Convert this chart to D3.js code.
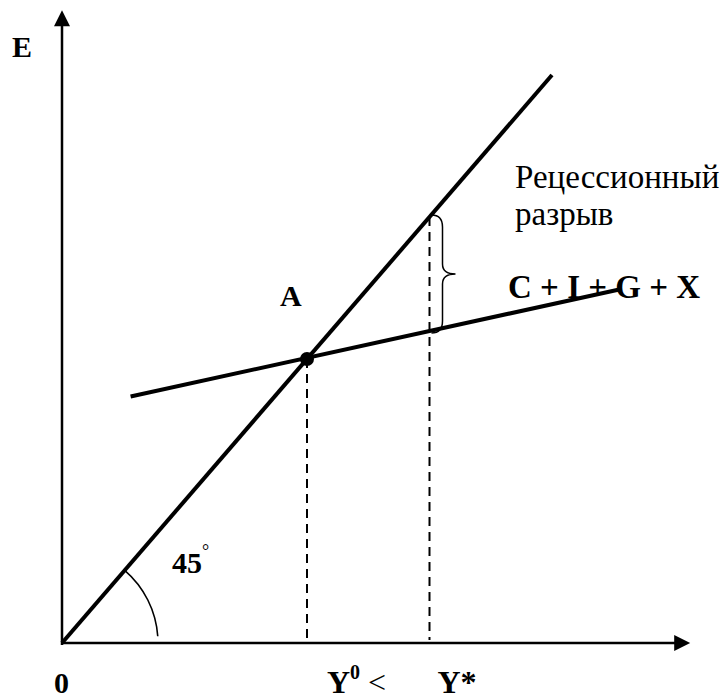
<!DOCTYPE html>
<html>
<head>
<meta charset="utf-8">
<script src="https://cdn.jsdelivr.net/npm/d3@7"></script>
<style>
  body { margin: 0; background: #fff; }
  svg text { font-family: "Liberation Serif", "Times New Roman", serif; fill: #000; }
  .bold { font-weight: bold; }
</style>
</head>
<body>
<div id="chart"></div>
<script>
// values in "model" units: Y on the x axis, E on the y axis
const diagonal = [[0, 0], [100, 100]];            // 45-degree line E = Y
const aggregate = [[14, 43.4], [113.5, 62.2]];   // C + I + G + X
const pointA = [50, 50];                           // equilibrium Y0
const yStar = 75;                                  // potential output Y*
const axisMax = { x: 128.2, y: 111.4 };
const gapLabel = ["Рецессионный", "разрыв"];
const lineLabel = "C + I + G + X";

const width = 724, height = 700;

const svg = d3.select("#chart").append("svg")
    .attr("width", width)
    .attr("height", height);

const x = d3.scaleLinear().domain([0, 100]).range([62, 552]);
const y = d3.scaleLinear().domain([0, 100]).range([643, 75]);

const aggAt = v => {
    const [p0, p1] = aggregate;
    return p0[1] + (p1[1] - p0[1]) * (v - p0[0]) / (p1[0] - p0[0]);
};

// axes with arrow heads
svg.append("line")
    .attr("x1", x(0)).attr("y1", y(0) + 2)
    .attr("x2", x(0)).attr("y2", y(axisMax.y) + 12)
    .attr("stroke", "#000").attr("stroke-width", 2.5);
svg.append("path")
    .attr("d", `M${x(0)},${y(axisMax.y)} L${x(0) - 8},${y(axisMax.y) + 16} L${x(0) + 8},${y(axisMax.y) + 16}Z`)
    .attr("fill", "#000");

svg.append("line")
    .attr("x1", x(0) - 1).attr("y1", y(0))
    .attr("x2", x(axisMax.x) - 12).attr("y2", y(0))
    .attr("stroke", "#000").attr("stroke-width", 2.5);
svg.append("path")
    .attr("d", `M${x(axisMax.x)},${y(0)} L${x(axisMax.x) - 16},${y(0) - 8} L${x(axisMax.x) - 16},${y(0) + 8}Z`)
    .attr("fill", "#000");

// dashed verticals
[pointA[0], yStar].forEach(v => {
    const top = v === yStar ? y(v) : y(pointA[1]);
    svg.append("line")
        .attr("x1", x(v)).attr("y1", top)
        .attr("x2", x(v)).attr("y2", y(0) - 3)
        .attr("stroke", "#000").attr("stroke-width", 2)
        .attr("stroke-dasharray", "9,6");
});

const line = d3.line().x(d => x(d[0])).y(d => y(d[1]));

svg.append("path").datum(diagonal)
    .attr("d", line)
    .attr("fill", "none").attr("stroke", "#000").attr("stroke-width", 4);

svg.append("path").datum(aggregate)
    .attr("d", line)
    .attr("fill", "none").attr("stroke", "#000").attr("stroke-width", 4);

svg.append("circle")
    .attr("cx", x(pointA[0])).attr("cy", y(pointA[1]))
    .attr("r", 7).attr("fill", "#000");

// 45 degree arc
const ang = Math.atan2(y(0) - y(100), x(100) - x(0));
const r = 96;
const ox = x(0), oy = y(0);
const arcPath = d3.path();
arcPath.arc(ox, oy, r, -ang, -0.07);
svg.append("path")
    .attr("d", arcPath.toString())
    .attr("fill", "none").attr("stroke", "#000").attr("stroke-width", 1.6);

// brace for recession gap
const bx = x(yStar) + 2, b1 = y(yStar) - 2, b2 = y(aggAt(yStar)) + 2, bm = (b1 + b2) / 2;
svg.append("path")
    .attr("d", `M${bx},${b1} Q${bx + 11},${b1} ${bx + 11},${b1 + 12} L${bx + 11},${bm - 10} Q${bx + 11},${bm} ${bx + 24},${bm} Q${bx + 11},${bm} ${bx + 11},${bm + 10} L${bx + 11},${b2 - 12} Q${bx + 11},${b2} ${bx},${b2}`)
    .attr("fill", "none").attr("stroke", "#000").attr("stroke-width", 1.5);

// labels
svg.append("text").attr("class", "bold")
    .attr("x", 12).attr("y", 57).attr("font-size", 30).text("E");

svg.append("text").attr("class", "bold")
    .attr("x", 54).attr("y", 693).attr("font-size", 30).text("0");

svg.append("text").attr("class", "bold")
    .attr("x", x(pointA[0]) - 27).attr("y", y(pointA[1]) - 53).attr("font-size", 30).text("A");

const bottom = svg.append("text").attr("class", "bold")
    .attr("x", x(pointA[0]) + 20).attr("y", 693).attr("font-size", 32);
bottom.append("tspan").text("Y");
bottom.append("tspan").attr("dy", -14).attr("font-size", 20).text("0");
bottom.append("tspan").attr("dy", 14).attr("font-weight", "normal").text(" < ");
bottom.append("tspan").attr("x", x(yStar) + 8).text("Y*");

const deg = svg.append("text").attr("class", "bold")
    .attr("x", 172).attr("y", 573).attr("font-size", 30);
deg.append("tspan").text("45");
deg.append("tspan").attr("dy", -16).attr("font-size", 18).attr("font-weight", "normal").text("°");

svg.append("text").attr("class", "bold")
    .attr("x", 508).attr("y", 298).attr("font-size", 33).text(lineLabel);

svg.selectAll(".gap").data(gapLabel).join("text")
    .attr("class", "gap")
    .attr("x", 515).attr("y", (d, i) => 188 + i * 37)
    .attr("font-size", 33).text(d => d);
</script>
</body>
</html>
